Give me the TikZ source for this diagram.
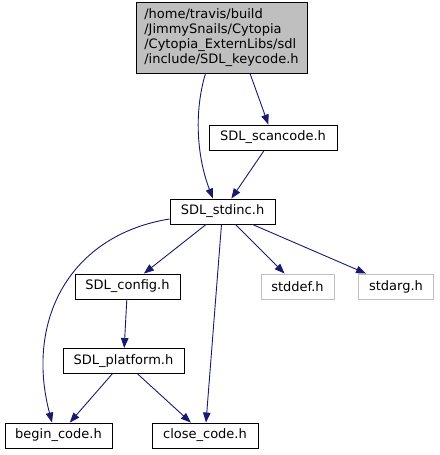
\documentclass[tikz,border=0pt]{standalone}
\usepackage{fontspec}
\setmainfont{DejaVu Sans}
\usepackage{xcolor}
\usetikzlibrary{
arrows.meta,
calc
}
\definecolor{edgeblue}{HTML}{191970}
\definecolor{greybox}{HTML}{BFBFBF}

\begin{document}
\begin{tikzpicture}[
x=1pt, y=-1pt,
font=\fontsize{13}{15}\selectfont,
file/.style={
rectangle,
draw=black,
fill=white,
line width=0.9pt,
inner sep=0pt,
minimum height=25pt,
align=center
},
extern/.style={
file,
draw=greybox
},
dep/.style={-{Triangle[length=10pt,width=7.5pt,fill=edgeblue]},draw=edgeblue,line width=0.9pt}
]

\useasboundingbox (0,0) rectangle (439,455);

\node[file, fill=greybox, minimum width=171pt, minimum height=71pt, align=left] (keycode) at (221.5,37.5)
{/home/travis/build\\/JimmySnails/Cytopia\\/Cytopia\_ExternLibs/sdl\\/include/SDL\_keycode.h};
\node[file, minimum width=128pt] (scancode) at (273,137.5) {SDL\_scancode.h};
\node[file, minimum width=105pt] (stdinc) at (222.5,211.5) {SDL\_stdinc.h};
\node[file, minimum width=105pt] (config) at (127.5,286.5) {SDL\_config.h};
\node[extern, minimum width=73pt] (stddef) at (297.5,286.5) {stddef.h};
\node[extern, minimum width=75pt] (stdarg) at (396,286.5) {stdarg.h};
\node[file, minimum width=121pt] (platform) at (123.5,361) {SDL\_platform.h};
\node[file, minimum width=107pt] (begin) at (58.5,435.5) {begin\_code.h};
\node[file, minimum width=106pt] (close) at (205,435.5) {close\_code.h};

% includes
\draw[dep] ($(keycode.south)+(-16,0)$) .. controls (193,115) and (198,160) .. ($(stdinc.north)+(-9.5,0)$);
\draw[dep] ($(keycode.south)+(28.5,0)$) -- (scancode);
\draw[dep] (scancode) -- (stdinc);
\draw[dep] ($(stdinc.west)+(0,7.5)$) .. controls (70,235) and (25,320) .. ($(begin.north)+(-6.5,0)$);
\draw[dep] (stdinc) -- (config);
\draw[dep] (stdinc) -- (close);
\draw[dep] (stdinc) -- (stddef);
\draw[dep] (stdinc) -- (stdarg);
\draw[dep] (config) -- (platform);
\draw[dep] (platform) -- (begin);
\draw[dep] (platform) -- (close);

\end{tikzpicture}
\end{document}
